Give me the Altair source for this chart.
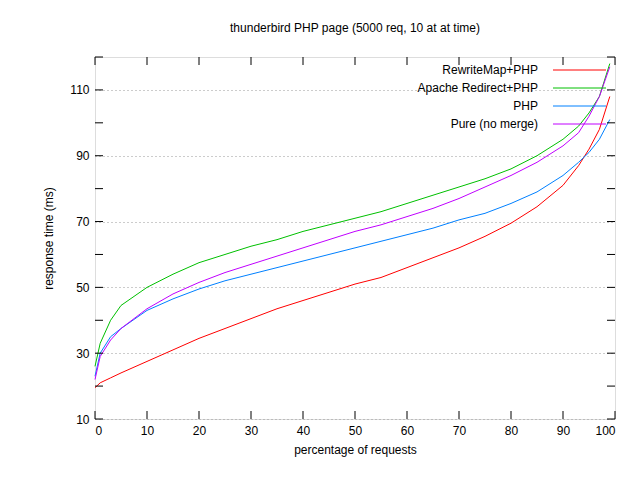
import altair as alt
import pandas as pd

pct = [0, 1, 3, 5, 10, 15, 20, 25, 30, 35, 40, 45, 50, 55, 60, 65, 70, 75, 80, 85, 90, 93, 95, 97, 99]
rewritemap = [19.5, 21, 22.5, 24, 27.5, 31, 34.5, 37.5, 40.5, 43.5, 46, 48.5, 51, 53, 56, 59, 62, 65.5, 69.5, 74.5, 81, 87, 92, 98, 108]
apache = [26, 33, 40, 44.5, 50, 54, 57.5, 60, 62.5, 64.5, 67, 69, 71, 73, 75.5, 78, 80.5, 83, 86, 90, 95, 99, 103, 108, 118]
php = [23, 30, 35, 37.5, 43, 46.5, 49.5, 52, 54, 56, 58, 60, 62, 64, 66, 68, 70.5, 72.5, 75.5, 79, 84, 88, 91, 95, 101]
pure = [22, 29, 34, 37.5, 43.5, 48, 51.5, 54.5, 57, 59.5, 62, 64.5, 67, 69, 71.5, 74, 77, 80.5, 84, 88, 93, 97, 102, 108, 117]

names = ["RewriteMap+PHP", "Apache Redirect+PHP", "PHP", "Pure (no merge)"]
colors = ["#ff0000", "#00c000", "#0080ff", "#c000ff"]
series = [rewritemap, apache, php, pure]

x_ticks = list(range(0, 101, 10))
y_ticks = list(range(10, 121, 10))

rows = []
for name, vals in zip(names, series):
    for p, v in zip(pct, vals):
        rows.append({"pct": p, "ms": v, "series": name})
df = pd.DataFrame(rows)

W, H = 520, 362
FONT = "Liberation Sans"
xs = alt.Scale(domain=[0, 100], nice=False)
ys = alt.Scale(domain=[10, 120], nice=False)

axis_text = dict(labelFont=FONT, titleFont=FONT, labelFontSize=12, titleFontSize=12,
                 titleFontWeight="normal", labelColor="black", titleColor="black",
                 labelOverlap=False, tickSize=0, labelPadding=6, domain=False)

base = alt.Chart(df).mark_line(strokeWidth=1).encode(
    x=alt.X("pct:Q", scale=xs, title="percentage of requests",
            axis=alt.Axis(values=x_ticks, grid=False, titlePadding=8, **axis_text)),
    y=alt.Y("ms:Q", scale=ys, title="response time (ms)",
            axis=alt.Axis(values=y_ticks, grid=True, gridDash=[1, 3], gridColor="#999999",
                          titlePadding=14, **axis_text)),
    color=alt.Color("series:N", scale=alt.Scale(domain=names, range=colors), legend=None),
    detail="series:N",
)

# inward tick marks on all four sides
xt = pd.DataFrame({"t": x_ticks})
yt = pd.DataFrame({"t": y_ticks})
tick_style = dict(color="black", strokeWidth=1)
xb = alt.Chart(xt).mark_rule(**tick_style).encode(x=alt.X("t:Q", scale=xs), y=alt.value(H), y2=alt.value(H - 8))
xtop = alt.Chart(xt).mark_rule(**tick_style).encode(x=alt.X("t:Q", scale=xs), y=alt.value(0), y2=alt.value(8))
yl = alt.Chart(yt).mark_rule(**tick_style).encode(y=alt.Y("t:Q", scale=ys), x=alt.value(0), x2=alt.value(8))
yr = alt.Chart(yt).mark_rule(**tick_style).encode(y=alt.Y("t:Q", scale=ys), x=alt.value(W - 8), x2=alt.value(W))

layers = [base, xb, xtop, yl, yr]
for i, (name, col) in enumerate(zip(names, colors)):
    yy = 13 + 18 * i
    d = pd.DataFrame({"name": [name]})
    layers.append(alt.Chart(d).mark_text(align="right", baseline="middle", fontSize=12,
                                         font=FONT).encode(
        text="name:N", x=alt.value(443), y=alt.value(yy)))
    layers.append(alt.Chart(d).mark_rule(color=col, strokeWidth=1).encode(
        x=alt.value(458), x2=alt.value(511), y=alt.value(yy)))

chart = alt.layer(*layers).properties(
    width=W, height=H,
    title=alt.TitleParams("thunderbird PHP page (5000 req, 10 at at time)", fontSize=12,
                          fontWeight="normal", font=FONT, offset=22),
    autosize=alt.AutoSizeParams(type="none"),
    padding={"left": 87, "top": 49, "right": 17, "bottom": 53},
).configure_view(stroke="black", strokeWidth=1).configure(background="white")

chart.save("out.html", embed_options={"renderer": "svg", "actions": False})
